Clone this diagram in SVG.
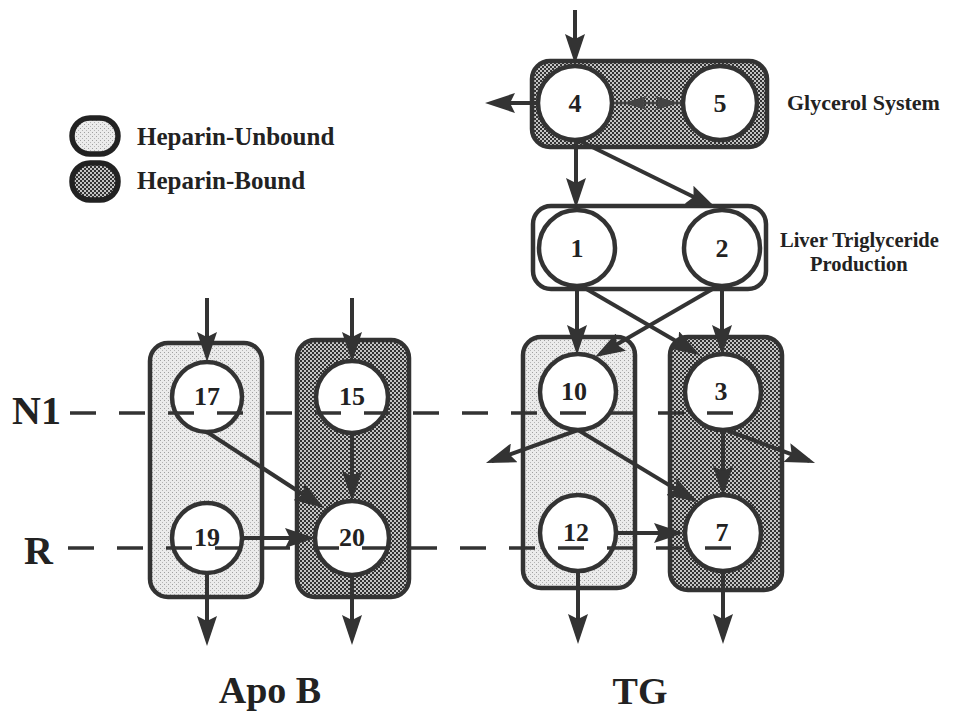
<svg xmlns="http://www.w3.org/2000/svg" width="957" height="712" viewBox="0 0 957 712">
<style>
.box{stroke:#333;stroke-width:4.5}
.nd{fill:#fff;stroke:#333;stroke-width:4.5}
.num{font-family:"Liberation Serif",serif;font-weight:bold;font-size:26px;fill:#222;text-anchor:middle}
.lbl{font-family:"Liberation Serif",serif;font-weight:bold;fill:#222}
.ar{stroke:#333;stroke-width:4;fill:none;marker-end:url(#ah)}
.dash{stroke:#333;stroke-width:3.5;stroke-dasharray:26 23;fill:none}
</style>
<defs>
<pattern id="lt" width="4" height="4" patternUnits="userSpaceOnUse">
<rect width="4" height="4" fill="#ebebeb"/>
<rect x="0" y="0" width="1" height="1" fill="#a0a0a0"/>
<rect x="2" y="2" width="1" height="1" fill="#b4b4b4"/>
</pattern>
<pattern id="dk" width="4" height="4" patternUnits="userSpaceOnUse">
<rect width="4" height="4" fill="#c4c4c4"/>
<rect x="0" y="0" width="2" height="2" fill="#333"/>
<rect x="2" y="2" width="2" height="2" fill="#333"/>
</pattern>
<marker id="ah" markerUnits="userSpaceOnUse" markerWidth="30" markerHeight="20" refX="24" refY="10" orient="auto">
<path d="M0,0 L30,10 L0,20 L5,10 z" fill="#333"/>
</marker>
<marker id="ahs" markerUnits="userSpaceOnUse" markerWidth="24" markerHeight="14" refX="20" refY="7" orient="auto">
<path d="M0,0 L24,7 L0,14 L4,7 z" fill="#444"/>
</marker>
</defs>
<rect width="957" height="712" fill="#fff"/>

<g id="legend">
<rect x="72" y="118" width="46" height="36" rx="18" fill="url(#lt)" stroke="#222" stroke-width="5.5"/>
<text class="lbl" x="137" y="145" font-size="25">Heparin-Unbound</text>
<rect x="72" y="163" width="46" height="37" rx="18" fill="url(#dk)" stroke="#222" stroke-width="5.5"/>
<text class="lbl" x="137" y="189" font-size="25">Heparin-Bound</text>
</g>

<g id="compartments">
<rect id="glycerol-box" class="box" x="532" y="61" width="235" height="86" rx="18" fill="url(#dk)"/>
<rect id="liver-box" class="box" x="533" y="206" width="233" height="83" rx="18" fill="none"/>
<rect id="box-17-19" class="box" x="150" y="343" width="112" height="254" rx="18" fill="url(#lt)"/>
<rect id="box-15-20" class="box" x="297" y="340" width="112" height="257" rx="18" fill="url(#dk)"/>
<rect id="box-10-12" class="box" x="523" y="337" width="112" height="251" rx="18" fill="url(#lt)"/>
<rect id="box-3-7" class="box" x="670" y="337" width="112" height="253" rx="18" fill="url(#dk)"/>
</g>

<g id="connectors">
<line class="ar" x1="575" y1="10" x2="575" y2="58"/>
<line class="ar" x1="538" y1="103" x2="491" y2="103"/>
<line x1="612" y1="103" x2="683" y2="103" stroke="#444" stroke-width="2.5"/>
<line x1="650" y1="103" x2="627" y2="103" stroke="none" marker-end="url(#ahs)"/>
<line x1="645" y1="103" x2="675" y2="103" stroke="none" marker-end="url(#ahs)"/>
<line class="ar" x1="576" y1="140" x2="576" y2="202"/>
<line class="ar" x1="580" y1="141" x2="710.6" y2="205.3"/>
<line class="ar" x1="577" y1="287" x2="577" y2="349"/>
<line class="ar" x1="722" y1="287" x2="722" y2="349"/>
<line class="ar" x1="583" y1="287" x2="694.8" y2="352"/>
<line class="ar" x1="716" y1="287" x2="600.2" y2="354"/>
<line class="ar" x1="578" y1="430" x2="491.6" y2="461"/>
<line class="ar" x1="578" y1="430" x2="691.9" y2="498.9"/>
<line class="ar" x1="723" y1="430" x2="723" y2="490"/>
<line class="ar" x1="726" y1="430" x2="809.4" y2="460.9"/>
<line class="ar" x1="616" y1="533" x2="678" y2="533"/>
<line class="ar" x1="578" y1="571" x2="578" y2="638"/>
<line class="ar" x1="723" y1="571" x2="723" y2="638"/>
<line class="ar" x1="207" y1="298" x2="207" y2="356"/>
<line class="ar" x1="352" y1="298" x2="352" y2="356"/>
<line class="ar" x1="207" y1="432" x2="319" y2="504.7"/>
<line class="ar" x1="352" y1="433" x2="352" y2="495"/>
<line class="ar" x1="242" y1="538" x2="309" y2="538"/>
<line class="ar" x1="207" y1="573" x2="207" y2="640"/>
<line class="ar" x1="352" y1="575" x2="352" y2="639"/>
</g>

<g id="node-4"><circle class="nd" cx="575" cy="103" r="37"/><text class="num" x="575" y="112">4</text></g>
<g id="node-5"><circle class="nd" cx="720" cy="103" r="37"/><text class="num" x="720" y="112">5</text></g>
<g id="node-1"><circle class="nd" cx="577" cy="248" r="38"/><text class="num" x="577" y="257">1</text></g>
<g id="node-2"><circle class="nd" cx="722" cy="248" r="38"/><text class="num" x="722" y="257">2</text></g>
<g id="node-17"><circle class="nd" cx="207" cy="397" r="35"/><text class="num" x="207" y="405">17</text></g>
<g id="node-15"><circle class="nd" cx="352" cy="397" r="36"/><text class="num" x="352" y="405">15</text></g>
<g id="node-19"><circle class="nd" cx="207" cy="538" r="35"/><text class="num" x="207" y="546">19</text></g>
<g id="node-20"><circle class="nd" cx="352" cy="538" r="37"/><text class="num" x="352" y="546">20</text></g>
<g id="node-10"><circle class="nd" cx="578" cy="392" r="38"/><text class="num" x="574" y="400">10</text></g>
<g id="node-3"><circle class="nd" cx="723" cy="392" r="38"/><text class="num" x="721" y="400">3</text></g>
<g id="node-12"><circle class="nd" cx="578" cy="533" r="38"/><text class="num" x="576" y="541">12</text></g>
<g id="node-7"><circle class="nd" cx="723" cy="533" r="38"/><text class="num" x="722" y="541">7</text></g>

<g id="levels">
<line class="dash" x1="70" y1="413" x2="733" y2="413"/>
<line class="dash" x1="68" y1="548" x2="731" y2="548"/>
<text class="lbl" x="12" y="424" font-size="40">N1</text>
<text class="lbl" x="24" y="564" font-size="40">R</text>
</g>

<g id="labels">
<text class="lbl" x="787" y="110" font-size="22">Glycerol System</text>
<text class="lbl" x="780" y="247" font-size="20.5">Liver Triglyceride</text>
<text class="lbl" x="810" y="271" font-size="20.5">Production</text>
<text class="lbl" x="270" y="703" font-size="38" text-anchor="middle">Apo B</text>
<text class="lbl" x="640" y="704" font-size="38" text-anchor="middle">TG</text>
</g>
</svg>
